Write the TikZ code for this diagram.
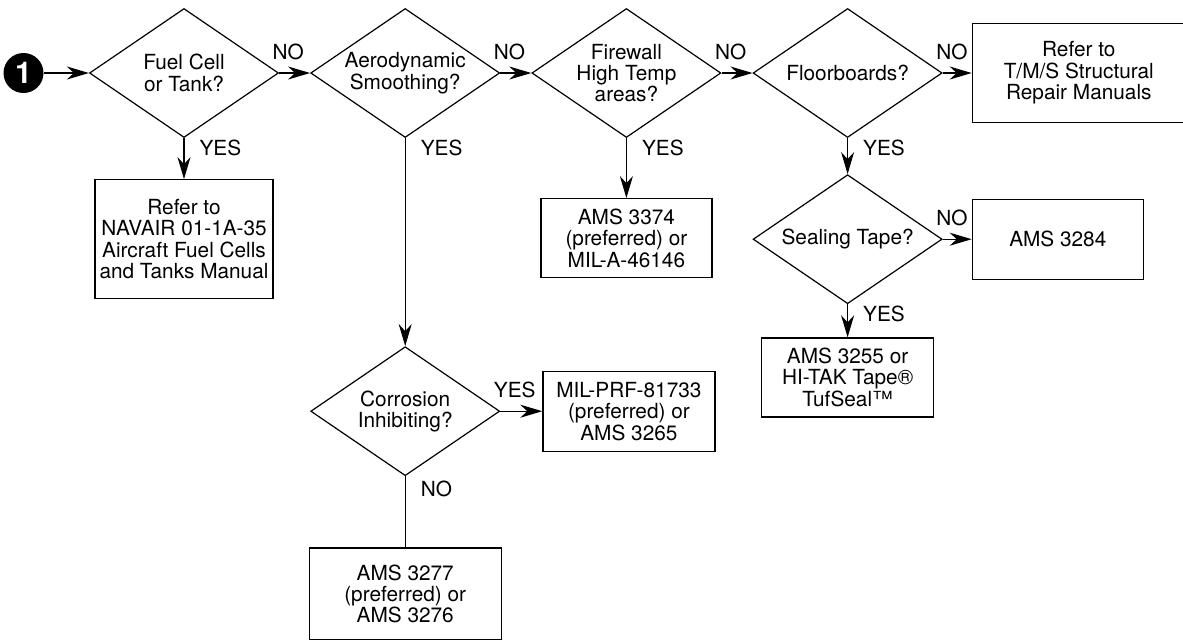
\documentclass[tikz,border=0pt]{standalone}
\usepackage{fontspec}
\setmainfont{TeX Gyre Heros}
\usetikzlibrary{shapes.geometric,arrows.meta,positioning}

\begin{document}
\begin{tikzpicture}[
  font=\fontsize{10.4}{10.7}\selectfont,
  >={Stealth[length=11pt, width=6.5pt, inset=3.5pt]},
  start/.style={circle, fill=black, inner sep=0pt, minimum size=20pt,
                text=white, font=\fontsize{15}{15}\selectfont\bfseries},
  dec/.style={diamond, draw, line width=0.6pt, aspect=1.465, inner sep=0pt,
              minimum width=94.5pt, minimum height=64.5pt, align=center},
  act/.style={rectangle, draw, line width=0.6pt, inner sep=2pt, align=center},
  link/.style={->, line width=0.6pt},
  flat/.style={line width=0.6pt},
  hlbl/.style={anchor=south west, inner sep=0pt, xshift=-3.5pt, yshift=6.5pt},
  vlbl/.style={anchor=north west, inner sep=0pt, xshift=7.5pt, yshift=-0.5pt},
]
\useasboundingbox (0,0) rectangle (591.5pt,-319.5pt);

\node[dec] (fuel) at (92pt,-36.5pt) {Fuel Cell\\or Tank?};
\node[start, left=22.5pt of fuel] (one) {1};
\node[dec, right=15.5pt of fuel]  (aero)  {Aerodynamic\\Smoothing?};
\node[dec, right=15.5pt of aero]  (fire)  {Firewall\\High Temp\\areas?};
\node[dec, right=15.5pt of fire]  (floor) {Floorboards?};
\node[dec, below=18pt of floor]   (tape)  {Sealing Tape?};
\node[dec, below=104pt of aero]   (corr)  {Corrosion\\Inhibiting?};

\node[act, below=20.5pt of fuel, minimum width=89pt, minimum height=59.5pt] (navair)
  {Refer to\\NAVAIR 01-1A-35\\Aircraft Fuel Cells\\and Tanks Manual};
\node[act, below=30pt of fire, minimum width=85.5pt, minimum height=39.5pt] (ams3374)
  {AMS 3374\\(preferred) or\\MIL-A-46146};
\node[act, right=14.5pt of floor, minimum width=106.5pt, minimum height=49.5pt] (tms)
  {Refer to\\T/M/S Structural\\Repair Manuals};
\node[act, right=14.5pt of tape, minimum width=85.5pt, minimum height=40pt] (ams3284)
  {AMS 3284};
\node[act, below=16.5pt of tape, minimum width=86pt, minimum height=39.5pt] (ams3255)
  {AMS 3255 or\\HI-TAK Tape®\\TufSeal™};
\node[act, right=21pt of corr, minimum width=86pt, minimum height=40pt] (milprf)
  {MIL-PRF-81733\\(preferred) or\\AMS 3265};
\node[act, below=35.5pt of corr, minimum width=96pt, minimum height=46pt] (ams3277)
  {AMS 3277\\(preferred) or\\AMS 3276};

\draw[link] (one) -- (fuel);
\draw[link] (fuel) -- node[hlbl, pos=0]{NO} (aero);
\draw[link] (aero) -- node[hlbl, pos=0]{NO} (fire);
\draw[link] (fire) -- node[hlbl, pos=0]{NO} (floor);
\draw[link] (floor) -- node[hlbl, pos=0]{NO} (tms);
\draw[link] (fuel) -- node[vlbl, pos=0]{YES} (navair);
\draw[link] (aero) -- node[vlbl, pos=0]{YES} (corr);
\draw[link] (fire) -- node[vlbl, pos=0]{YES} (ams3374);
\draw[link] (floor) -- node[vlbl, pos=0]{YES} (tape);
\draw[link] (tape) -- node[hlbl, pos=0]{NO} (ams3284);
\draw[link] (tape) -- node[vlbl, pos=0]{YES} (ams3255);
\draw[link] (corr) -- node[hlbl, pos=0]{YES} (milprf);
\draw[flat] (corr) -- node[vlbl, pos=0, yshift=-1.5pt]{NO} (ams3277);

\end{tikzpicture}
\end{document}
